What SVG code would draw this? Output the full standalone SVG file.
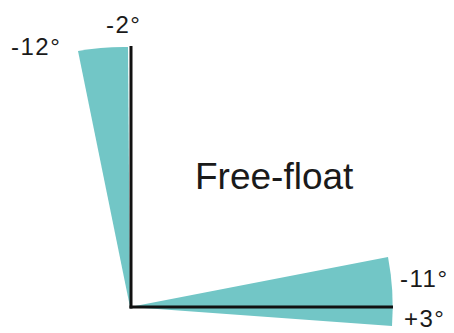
<svg xmlns="http://www.w3.org/2000/svg" width="454" height="333" viewBox="0 0 454 333">
<style>
.wedge{fill:#72c6c6;stroke:none}
.axis{stroke:#111;stroke-width:3;fill:none;stroke-linecap:butt}
.lbl{font-family:"Liberation Sans",Arial,sans-serif;font-size:24px;fill:#1a1a1a;letter-spacing:1.5px}
.title{font-family:"Liberation Sans",Arial,sans-serif;font-size:37px;fill:#1a1a1a}
</style>
<rect width="454" height="333" fill="#fff"/>
<g id="vertical-range">
<path class="wedge" d="M130,307 L78,51 A260,260 0 0 1 128,47 Z"/>
</g>
<g id="horizontal-range">
<path class="wedge" d="M130,307 L388,257 A263,263 0 0 1 392,326 Z"/>
</g>
<g id="connectors">
<line class="axis" x1="131" y1="46" x2="131" y2="308.5"/>
<line class="axis" x1="129.5" y1="307" x2="393" y2="307"/>
</g>
<g id="labels">
<text class="lbl" x="11" y="55">-12°</text>
<text class="lbl" x="106" y="33">-2°</text>
<text class="lbl" x="400" y="287">-11°</text>
<text class="lbl" x="404" y="327">+3°</text>
</g>
<g id="title">
<text class="title" x="195" y="189">Free-float</text>
</g>
</svg>
